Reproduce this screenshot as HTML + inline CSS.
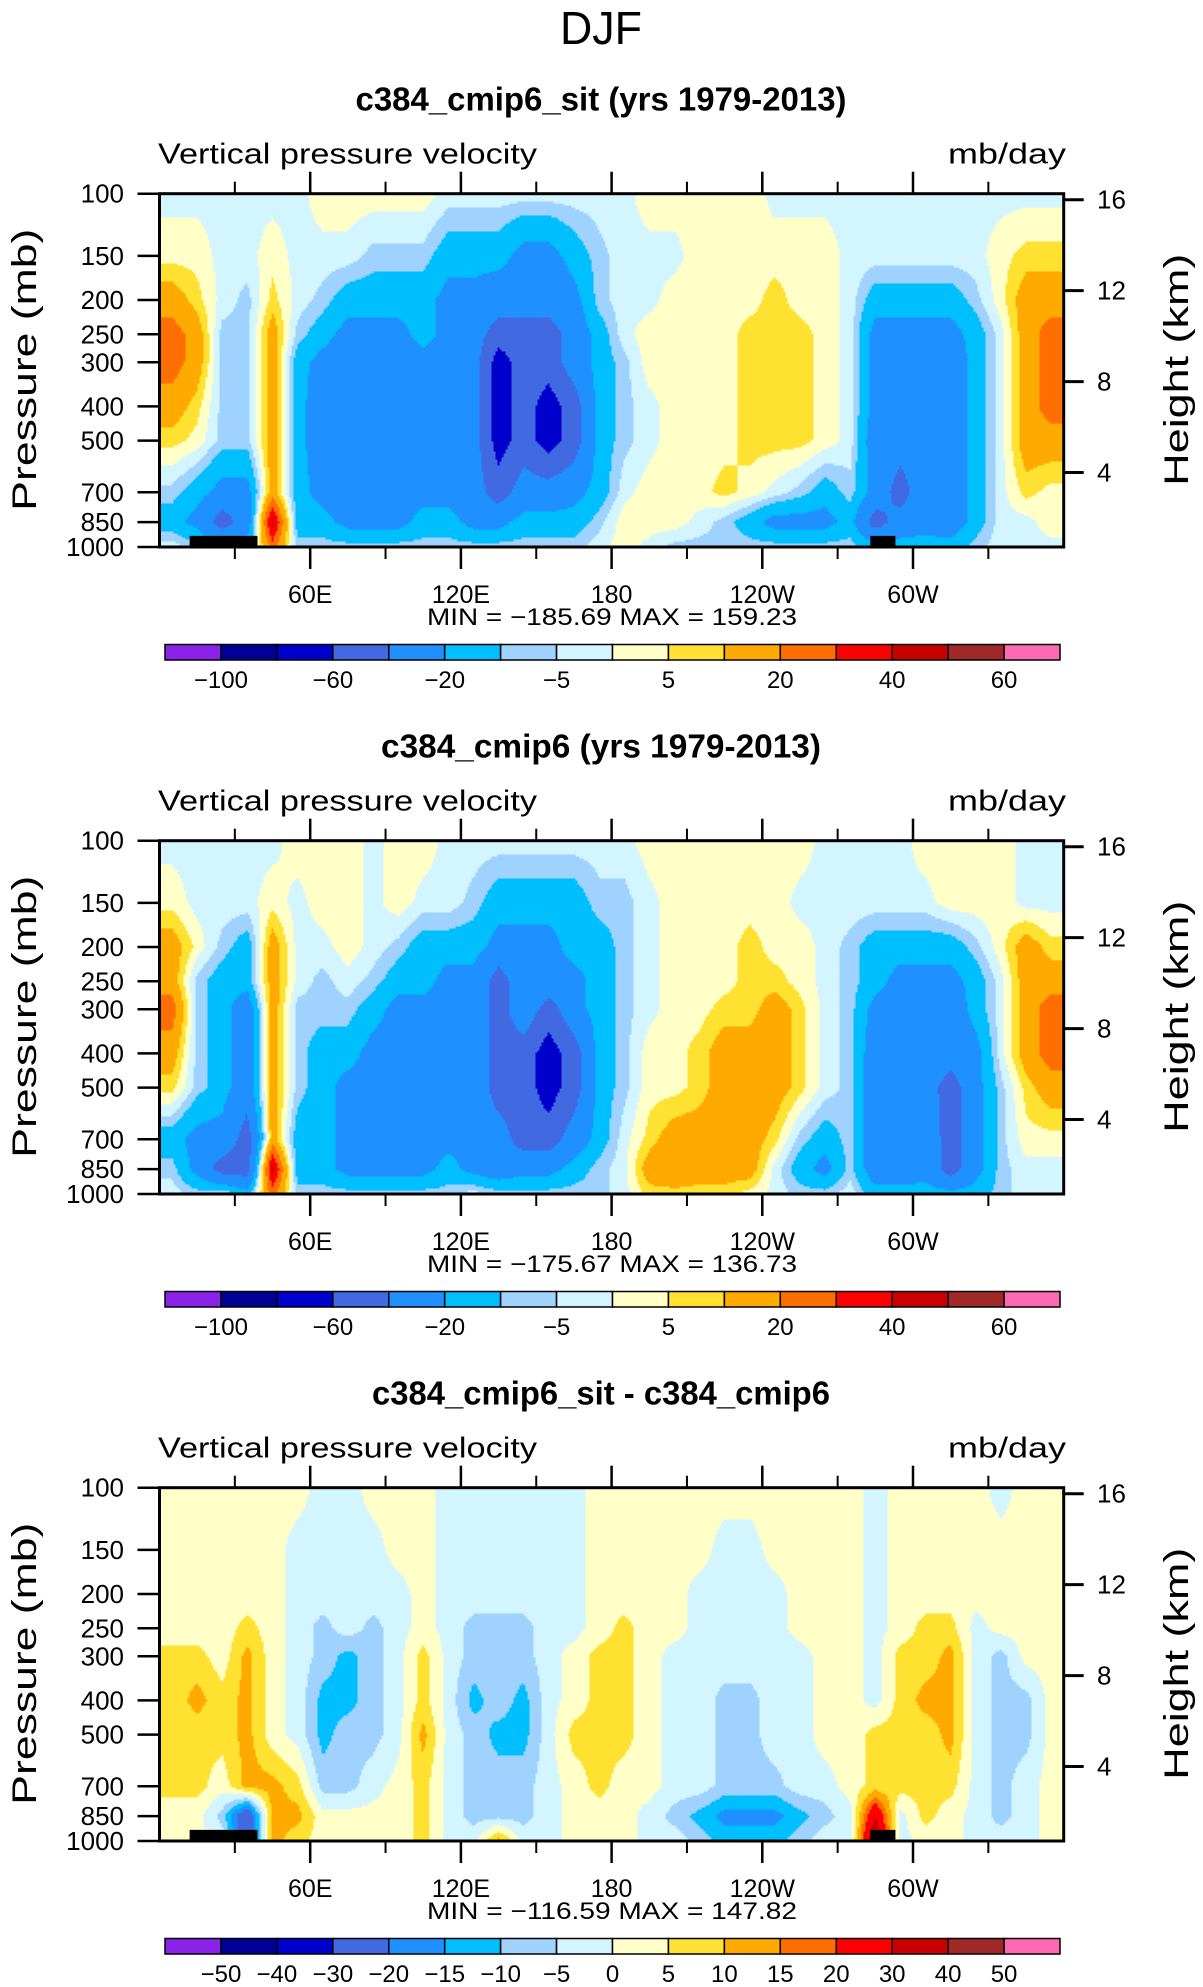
<!DOCTYPE html>
<html><head><meta charset="utf-8">
<style>
html,body{margin:0;padding:0;background:#fff;}
svg{display:block;font-family:"Liberation Sans",sans-serif;}
</style></head>
<body>
<svg id="fig" width="1203" height="1987" viewBox="0 0 1203 1987" xmlns="http://www.w3.org/2000/svg">
<text x="601" y="44" font-size="46" text-anchor="middle" fill="#000" textLength="82" lengthAdjust="spacingAndGlyphs">DJF</text>
</svg>
<script>
// ---- data ----
const levels = [100,150,200,250,300,400,500,700,850,1000];
const lonCenters = [5,15,25,35,45,55,65,75,85,95,105,115,125,135,145,155,165,175,185,195,205,215,225,235,245,255,265,275,285,295,305,315,325,335,345,355];
const lonTickValues = [60,120,180,240,300];
const lonTickLabels = ["60E","120E","180","120W","60W"];
const lonMinorTicks = [30,90,150,210,270,330];
const pressureTicks = [100,150,200,250,300,400,500,700,850,1000];
const heightTicks = [4,8,12,16];
const fullThresholds = [-100,-80,-60,-40,-20,-10,-5,0,5,10,20,30,40,50,60];
const fullLabels = ["-100","-60","-20","-5","5","20","40","60"];
const diffThresholds = [-50,-40,-30,-20,-15,-10,-5,0,5,10,15,20,30,40,50];
const diffLabels = ["-50","-40","-30","-20","-15","-10","-5","0","5","10","15","20","30","40","50"];
const palette = ["#8a22ea","#000096","#0000cd","#4169e1","#1e90ff","#00bfff","#a0d2ff","#d2f5ff","#ffffc8","#ffe132","#ffaa00","#ff6e00","#ff0000","#c80000","#a02828","#ff69b4"];
const sitValues = [
[-2,-2,-2,-2,-2,-2,3,3,3,3,3,-2,-2,-2,-2,-2,-2,-2,-2,3,3,3,3,3,-2,-2,-2,-2,-2,-2,-2,-2,-2,-2,-2,-2],
[3,3,-2,-2,3,-2,-2,-2,-7,-7,-7,-15,-15,-15,-25,-25,-15,-7,-2,-2,-2,3,3,3,3,3,3,-2,-2,-2,-2,-2,-2,3,7,7],
[15,7,-2,-7,7,-2,-7,-15,-15,-15,-15,-25,-25,-30,-30,-30,-25,-7,-2,-2,3,3,3,3,7,3,3,-2,-15,-15,-15,-15,-7,3,15,15],
[25,15,-7,-7,15,-7,-15,-25,-25,-25,-15,-25,-30,-50,-50,-50,-30,-15,-2,3,3,3,3,7,7,7,3,-2,-25,-25,-25,-25,-15,-2,15,25],
[25,15,-7,-7,15,-15,-25,-30,-30,-30,-25,-25,-30,-70,-50,-50,-30,-15,-7,3,3,3,3,7,7,7,3,-2,-25,-30,-25,-30,-15,-2,15,25],
[15,7,-7,-7,15,-15,-30,-30,-30,-30,-25,-25,-30,-70,-50,-70,-50,-15,-7,-2,3,3,3,7,7,7,3,-2,-25,-30,-25,-30,-15,-2,15,25],
[7,3,-7,-7,15,-15,-30,-30,-30,-30,-25,-25,-30,-70,-50,-70,-50,-15,-7,-2,3,3,3,7,7,7,3,-2,-30,-30,-25,-30,-15,-2,15,15],
[-7,-15,-25,-25,15,-15,-25,-30,-30,-30,-25,-25,-30,-50,-30,-30,-25,-15,-2,3,3,3,7,3,-2,-7,-15,-7,-25,-50,-25,-30,-15,-2,7,3],
[-15,-25,-50,-30,45,-15,-15,-25,-25,-25,-15,-15,-25,-25,-15,-15,-15,-7,3,3,3,-2,-7,-15,-25,-25,-25,-15,-50,-30,-25,-30,-15,-2,-2,3],
[-2,-7,-15,-15,25,-7,-7,-7,-7,-7,-7,-7,-7,-7,-7,-7,-7,-2,3,-2,-7,-7,-7,-7,-7,-7,-7,-7,-15,-15,-15,-15,-7,-2,-2,-2]
];
const ctlValues = [
[-2,-2,-2,-2,-2,3,3,3,-2,3,3,-2,-2,-2,-2,-2,-2,-2,-2,3,3,3,3,3,3,3,-2,-2,-2,-2,3,3,3,3,-2,-2],
[3,-2,-2,-2,3,-2,3,3,-2,3,-2,-2,-7,-15,-15,-15,-15,-7,-7,-2,3,3,3,3,3,-2,-2,-2,-2,-2,-2,3,3,3,-2,-2],
[15,3,-7,-15,15,-2,-2,3,-2,-7,-15,-15,-15,-25,-25,-25,-15,-15,-7,-2,3,3,3,7,3,3,-2,-7,-15,-15,-15,-15,-7,3,15,7],
[15,-7,-15,-15,15,-2,-7,-2,-7,-15,-15,-25,-25,-50,-25,-25,-25,-15,-7,-2,3,3,3,7,7,3,-2,-7,-15,-25,-25,-25,-15,-2,15,15],
[25,-7,-15,-30,15,-7,-7,-7,-15,-25,-25,-30,-25,-50,-25,-50,-25,-15,-7,-2,3,3,7,7,15,7,-2,-7,-25,-30,-25,-30,-15,-2,15,25],
[15,-7,-15,-30,15,-7,-15,-15,-25,-25,-25,-30,-25,-50,-50,-70,-50,-15,-7,3,3,7,15,15,15,7,-2,-7,-30,-30,-25,-30,-25,-2,15,25],
[7,-7,-15,-30,15,-7,-15,-25,-25,-25,-25,-25,-25,-50,-50,-70,-50,-15,-7,3,3,7,15,15,15,7,-2,-7,-30,-25,-30,-50,-25,-7,7,15],
[-15,-25,-25,-50,15,-15,-15,-25,-25,-25,-25,-25,-25,-30,-50,-50,-30,-15,-2,7,15,15,15,15,7,-7,-15,-7,-30,-30,-25,-50,-25,-7,3,3],
[-7,-25,-50,-50,45,-15,-15,-25,-25,-25,-25,-15,-25,-30,-25,-25,-15,-7,-2,15,20,15,15,15,-2,-15,-25,-7,-30,-30,-25,-50,-25,-7,-2,-2],
[-2,-7,-2,-15,25,-7,-7,-7,-7,-7,-7,-7,-2,-7,-7,-7,-7,-7,-2,7,7,7,7,3,-2,-7,-7,-2,-15,-15,-15,-15,-15,-7,-2,-2]
];
const diffValues = [
[2,2,2,2,2,2,-2,-2,2,2,2,-2,-2,-2,-2,-2,-2,2,2,2,2,2,2,2,2,2,2,2,-2,2,2,2,2,-2,2,2],
[2,2,2,2,2,-2,-2,-2,-2,2,2,-2,-2,-2,-2,-2,-2,2,2,2,2,2,-2,-2,2,2,2,2,-2,2,2,2,2,2,2,2],
[2,2,2,2,2,-2,-2,-2,-2,-2,2,-2,-2,-2,-2,-2,-2,2,2,2,2,-2,-2,-2,-2,2,2,2,-2,2,2,2,2,2,2,2],
[2,2,2,7,2,-2,-7,-2,-7,-2,2,-2,-7,-7,-7,-2,-2,2,7,2,2,-2,-2,-2,-2,2,2,2,-2,2,7,7,-2,2,2,2],
[7,7,2,12,2,-2,-7,-12,-7,-2,7,-2,-7,-7,-7,-2,2,7,7,2,-2,-2,-2,-2,-2,-2,2,2,-2,7,7,12,-2,-7,2,2],
[7,12,7,12,2,-2,-12,-12,-7,-2,7,-2,-12,-7,-12,-2,2,7,7,2,-2,-2,-7,-7,-2,-2,2,2,-2,7,12,12,-2,-7,-7,2],
[7,7,7,12,2,-2,-12,-7,-7,-2,12,-2,-7,-12,-12,-2,7,7,7,2,-2,-2,-7,-7,-2,-2,2,2,7,7,7,12,-2,-7,-7,2],
[7,7,2,12,12,7,-7,-7,-2,2,7,-2,-7,-7,-7,-2,2,7,2,2,-2,-2,-7,-7,-7,-2,-2,2,7,7,7,7,-2,-7,-2,2],
[2,2,-7,-30,12,12,2,2,2,2,7,-2,-7,-7,-7,-2,2,2,2,-2,-7,-12,-17,-17,-17,-12,-7,-2,30,-2,7,2,-2,-7,-2,2],
[2,2,-2,-30,12,7,2,2,2,2,7,-2,-2,12,-2,-2,2,2,2,-2,-2,-7,-12,-12,-12,-7,-2,-2,40,-2,2,2,-2,-2,-2,2]
];
const panelTitles = ["c384_cmip6_sit (yrs 1979-2013)","c384_cmip6 (yrs 1979-2013)","c384_cmip6_sit - c384_cmip6"];
const minValues = ["-185.69","-175.67","-116.59"];
const maxValues = ["159.23","136.73","147.82"];
const topoLonStart = [12,283];
const topoLonEnd = [39,293];
const topoTopP = [930,930];
const panelHasTopo = [true,false,true];

// ---- drawing ----
const NS = "http://www.w3.org/2000/svg";
const svg = document.getElementById("fig");
function mk(tag, attrs, parent){
  const e = document.createElementNS(NS, tag);
  for (const k in attrs) e.setAttribute(k, attrs[k]);
  (parent||svg).appendChild(e);
  return e;
}
const X0 = 159.5, X1 = 1063.7, PH = 353.3, PANEL_DY = 647, TOP0 = 193.7;
function xScale(lon){ return X0 + (lon/360)*(X1-X0); }
function yScale(p, top){ return top + (Math.log10(p)-2)*PH; }
const H = 6.75, P0 = 1113;
function heightToP(z){ return P0*Math.exp(-z/H); }

function colorIndex(v, th){ let k=0; for (const t of th) if (v>=t) k++; return k; }
function sample(grid, lon, p){
  const lp = Math.log10(p);
  const lls = levels.map(l=>Math.log10(l));
  let r = 0; while (r < levels.length-2 && lp > lls[r+1]) r++;
  let fy = (lp - lls[r])/(lls[r+1]-lls[r]); fy = Math.max(0,Math.min(1,fy));
  let cx = (lon - lonCenters[0])/10; cx = Math.max(0, Math.min(lonCenters.length-1, cx));
  let c = Math.min(Math.floor(cx), lonCenters.length-2); let fx = cx - c;
  const a = grid[r][c]*(1-fx)+grid[r][c+1]*fx;
  const b = grid[r+1][c]*(1-fx)+grid[r+1][c+1]*fx;
  return a*(1-fy)+b*fy;
}

function addCell(field, x, y, w, h, col){
  const r = mk("rect", {x:x, y:y, width:w, height:h, fill:palette[col]}, field);
  
  
}

function drawPanel(i, grid, th, labels){
  const top = TOP0 + i*PANEL_DY, bot = top + PH;
  const g = mk("g", {});
  
  
  const t = mk("text", {x:601, y:top-83, "font-size":33, "font-weight":"bold", "text-anchor":"middle", textLength: i===0?491:(i===1?440:458), lengthAdjust:"spacingAndGlyphs"}, g);
  t.textContent = panelTitles[i];
  
  
  const vt = mk("text", {x:158, y:top-30, "font-size":29, textLength:379, lengthAdjust:"spacingAndGlyphs"}, g);
  vt.textContent = "Vertical pressure velocity";
  
  
  const ut = mk("text", {x:1066, y:top-30, "font-size":29, "text-anchor":"end", textLength:118, lengthAdjust:"spacingAndGlyphs"}, g);
  ut.textContent = "mb/day";
  
  

  // field
  const field = mk("g", {"shape-rendering":"crispEdges"}, g);
  
  
  const step = 2;
  for (let y = top; y < bot; y += step){
    const h = Math.min(step, bot-y);
    const p = Math.pow(10, 2 + (y + h/2 - top)/PH);
    let runStart = X0, runCol = -1;
    for (let x = X0; x < X1; x += step){
      const lon = (x + step/2 - X0)/(X1-X0)*360;
      const ci = colorIndex(sample(grid, lon, p), th);
      if (ci !== runCol){
        if (runCol >= 0) addCell(field, runStart, y, x-runStart, h, runCol);
        runStart = x; runCol = ci;
      }
    }
    if (runCol >= 0) addCell(field, runStart, y, X1-runStart, h, runCol);
  }
  // topo
  if (panelHasTopo[i]){
    for (let k=0;k<topoLonStart.length;k++){
      const tr = mk("rect", {x:xScale(topoLonStart[k]), y:yScale(topoTopP[k],top), width:xScale(topoLonEnd[k])-xScale(topoLonStart[k]), height:bot-yScale(topoTopP[k],top), fill:"#000"}, g);
      
      
    }
  }
  // frame
  const fr = mk("rect", {x:X0, y:top, width:X1-X0, height:PH, fill:"none", stroke:"#000", "stroke-width":3}, g);
  
  
  // lon ticks
  lonTickValues.forEach((lon,k)=>{
    const x = xScale(lon);
    const l1 = mk("line", {x1:x, x2:x, y1:bot, y2:bot+22, stroke:"#000", "stroke-width":2.5}, g);
    
    
    const l2 = mk("line", {x1:x, x2:x, y1:top, y2:top-22, stroke:"#000", "stroke-width":2.5}, g);
    
    
    const tl = mk("text", {x:x, y:bot+56, "font-size":25, "text-anchor":"middle"}, g);
    tl.textContent = lonTickLabels[k];
    
    
  });
  lonMinorTicks.forEach(lon=>{
    const x = xScale(lon);
    const l1 = mk("line", {x1:x, x2:x, y1:bot, y2:bot+12, stroke:"#000", "stroke-width":2}, g);
    
    
    const l2 = mk("line", {x1:x, x2:x, y1:top, y2:top-12, stroke:"#000", "stroke-width":2}, g);
    
    
  });
  // pressure ticks
  pressureTicks.forEach(p=>{
    const y = yScale(p, top);
    const l = mk("line", {x1:X0-22, x2:X0, y1:y, y2:y, stroke:"#000", "stroke-width":2.5}, g);
    
    
    const tl = mk("text", {x:124, y:y+9, "font-size":26, "text-anchor":"end"}, g);
    tl.textContent = String(p);
    
    
  });
  heightTicks.forEach(z=>{
    const y = yScale(heightToP(z), top);
    const l = mk("line", {x1:X1, x2:X1+20, y1:y, y2:y, stroke:"#000", "stroke-width":3}, g);
    
    
    const tl = mk("text", {x:1097, y:y+9, "font-size":26}, g);
    tl.textContent = String(z);
    
    
  });
  const ya = mk("text", {x:0, y:0, "font-size":34, "text-anchor":"middle", transform:`translate(36,${top+176}) rotate(-90)`, textLength:282, lengthAdjust:"spacingAndGlyphs"}, g);
  ya.textContent = "Pressure  (mb)";
  
  
  const ha = mk("text", {x:0, y:0, "font-size":34, "text-anchor":"middle", transform:`translate(1188,${top+176}) rotate(-90)`, textLength:232, lengthAdjust:"spacingAndGlyphs"}, g);
  ha.textContent = "Height  (km)";
  
  
  const mm = mk("text", {x:612, y:bot+78, "font-size":24, "text-anchor":"middle", textLength:370, lengthAdjust:"spacingAndGlyphs"}, g);
  mm.textContent = "MIN = " + minValues[i].replace("-","\u2212") + "   MAX = " + maxValues[i];
  
  
  // colorbar
  const cbx0 = 165, cbx1 = 1060, cby = bot + 97.5, cbh = 15.5;
  const bw = (cbx1-cbx0)/palette.length;
  palette.forEach((c,k)=>{
    const r = mk("rect", {x:cbx0+k*bw, y:cby, width:bw, height:cbh, fill:c, stroke:"#000", "stroke-width":1.5}, g);
    
    
  });
  const every = labels.length === th.length ? 1 : 2;
  labels.forEach((lab,k)=>{
    const bi = every===1 ? k+1 : 2*k+1;
    const tl = mk("text", {x:cbx0+bi*bw, y:cby+cbh+28, "font-size":24, "text-anchor":"middle"}, g);
    tl.textContent = lab.replace("-","\u2212");
    
    
  });
}
drawPanel(0, sitValues, fullThresholds, fullLabels);
drawPanel(1, ctlValues, fullThresholds, fullLabels);
drawPanel(2, diffValues, diffThresholds, diffLabels);
</script>
</body></html>
